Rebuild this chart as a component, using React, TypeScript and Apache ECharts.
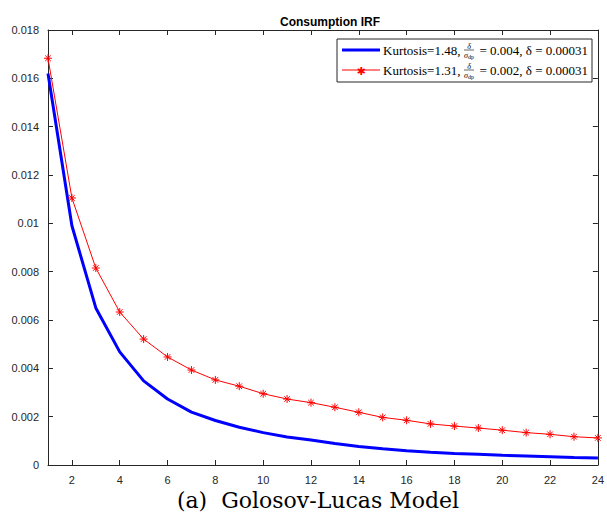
import React, { useEffect, useRef } from "react";
import * as echarts from "echarts";

const periods = Array.from({ length: 24 }, (_, i) => i + 1);
const blueValues = [
  0.0162, 0.0099, 0.0065, 0.00468, 0.00348, 0.00273, 0.00219, 0.00184, 0.00156, 0.00134,
  0.00116, 0.00103, 0.00089, 0.00077, 0.00067, 0.00059, 0.00053, 0.00048, 0.00044, 0.0004,
  0.00037, 0.00034, 0.00031, 0.00029,
];
const redValues = [
  0.01683, 0.01105, 0.00815, 0.00633, 0.00521, 0.00447, 0.00393, 0.00352, 0.00326, 0.00295,
  0.00273, 0.00258, 0.00239, 0.00218, 0.00197, 0.00185, 0.0017, 0.00161, 0.00153, 0.00144,
  0.00134, 0.00127, 0.00117, 0.00112,
];
const xTicks = [2, 4, 6, 8, 10, 12, 14, 16, 18, 20, 22, 24];
const legendLabels = [
  { kurt: "Kurtosis=1.48,", ratio: "= 0.004, δ = 0.00031" },
  { kurt: "Kurtosis=1.31,", ratio: "= 0.002, δ = 0.00031" },
];
const titleText = "Consumption IRF";
const captionText = "(a)  Golosov-Lucas Model";

const AX = "#262626";
const SANS = "Liberation Sans, Arial, sans-serif";
const SERIF = "Liberation Serif, DejaVu Serif, serif";

export default function App() {
  const ref = useRef<HTMLDivElement>(null);
  useEffect(() => {
    document.body.style.margin = "0";
    if (!ref.current) return;
    const chart = echarts.init(ref.current, null, { renderer: "svg" });
    const star = "path://M0,5L10,5M5,0L5,10M1.5,1.5L8.5,8.5M8.5,1.5L1.5,8.5";

    const legendX = 337;
    const legendRows = [50, 70];
    const legendGraphics: any[] = [
      {
        type: "rect",
        shape: { x: legendX, y: 39, width: 255, height: 43 },
        style: { fill: "#fff", stroke: "#262626", lineWidth: 1 },
        z: 10,
      },
    ];
    legendRows.forEach((cy, i) => {
      const isBlue = i === 0;
      legendGraphics.push({
        type: "line",
        shape: { x1: 342, y1: cy, x2: 380, y2: cy },
        style: { stroke: isBlue ? "#0000ff" : "#ff0000", lineWidth: isBlue ? 3 : 1 },
        z: 11,
      });
      if (!isBlue) {
        legendGraphics.push({
          type: "text",
          x: 361,
          y: cy + 1,
          style: {
            text: "✱",
            fill: "#ff0000",
            font: "11px DejaVu Sans",
            align: "center",
            verticalAlign: "middle",
          },
          z: 12,
        });
      }
      legendGraphics.push({
        type: "text",
        x: 383,
        y: cy,
        style: {
          text: legendLabels[i].kurt,
          fill: "#000",
          font: `13px ${SERIF}`,
          verticalAlign: "middle",
        },
        z: 11,
      });
      legendGraphics.push({
        type: "text",
        x: 469,
        y: cy - 4,
        style: {
          text: "δ",
          fill: "#000",
          font: `italic 8px ${SERIF}`,
          align: "center",
          verticalAlign: "middle",
        },
        z: 11,
      });
      legendGraphics.push({
        type: "line",
        shape: { x1: 464, y1: cy, x2: 474, y2: cy },
        style: { stroke: "#000", lineWidth: 0.6 },
        z: 11,
      });
      legendGraphics.push({
        type: "text",
        x: 469,
        y: cy + 5,
        style: {
          text: "{a|σ}{b|dp}",
          rich: {
            a: { font: `italic 8px ${SERIF}`, fill: "#000" },
            b: { font: `6px ${SERIF}`, fill: "#000", padding: [3, 0, 0, 0] },
          },
          align: "center",
          verticalAlign: "middle",
        },
        z: 11,
      });
      legendGraphics.push({
        type: "text",
        x: 588,
        y: cy,
        style: {
          text: legendLabels[i].ratio,
          fill: "#000",
          font: `13px ${SERIF}`,
          align: "right",
          verticalAlign: "middle",
        },
        z: 11,
      });
    });

    const xCommon = {
      type: "value" as const,
      min: 1,
      max: 24,
      splitLine: { show: false },
      axisLine: { onZero: false, lineStyle: { color: AX, width: 1 } },
      axisTick: { inside: true, length: 5, customValues: xTicks, lineStyle: { color: AX } },
    };
    const yCommon = {
      type: "value" as const,
      min: 0,
      max: 0.018,
      interval: 0.002,
      splitLine: { show: false },
      axisLine: { show: true, onZero: false, lineStyle: { color: AX, width: 1 } },
      axisTick: { show: true, inside: true, length: 5, lineStyle: { color: AX } },
    };

    chart.setOption({
      animation: false,
      backgroundColor: "#fff",
      title: {
        text: titleText,
        left: 325,
        top: 11,
        textAlign: "center",
        textStyle: { fontFamily: SANS, fontSize: 12, fontWeight: "bold", color: "#000" },
      },
      grid: { left: 48, right: 5, top: 30, bottom: 57, containLabel: false },
      xAxis: [
        {
          ...xCommon,
          position: "bottom",
          axisLabel: {
            customValues: xTicks,
            color: AX,
            fontFamily: SANS,
            fontSize: 11,
            margin: 9,
          },
        },
        { ...xCommon, position: "top", axisLabel: { show: false } },
      ],
      yAxis: [
        {
          ...yCommon,
          position: "left",
          axisLabel: {
            color: AX,
            fontFamily: SANS,
            fontSize: 11,
            margin: 9,
            formatter: (v: number) => String(parseFloat(v.toFixed(3))),
          },
        },
        { ...yCommon, position: "right", axisLabel: { show: false } },
      ],
      series: [
        {
          type: "line",
          data: periods.map((p, i) => [p, blueValues[i]]),
          showSymbol: false,
          lineStyle: { color: "#0000ff", width: 3 },
          itemStyle: { color: "#0000ff" },
          z: 3,
        },
        {
          type: "line",
          data: periods.map((p, i) => [p, redValues[i]]),
          symbol: star,
          symbolSize: 8,
          lineStyle: { color: "#ff0000", width: 1 },
          itemStyle: { color: "#ff0000", borderColor: "#ff0000", borderWidth: 1 },
          z: 4,
        },
      ],
      graphic: [
        ...legendGraphics,
        {
          type: "text",
          x: 318,
          y: 500,
          style: {
            text: captionText,
            fill: "#000",
            font: `22px DejaVu Serif, serif`,
            align: "center",
            verticalAlign: "middle",
          },
        },
      ],
    });
    return () => chart.dispose();
  }, []);
  return <div ref={ref} style={{ width: 607, height: 522 }} />;
}
